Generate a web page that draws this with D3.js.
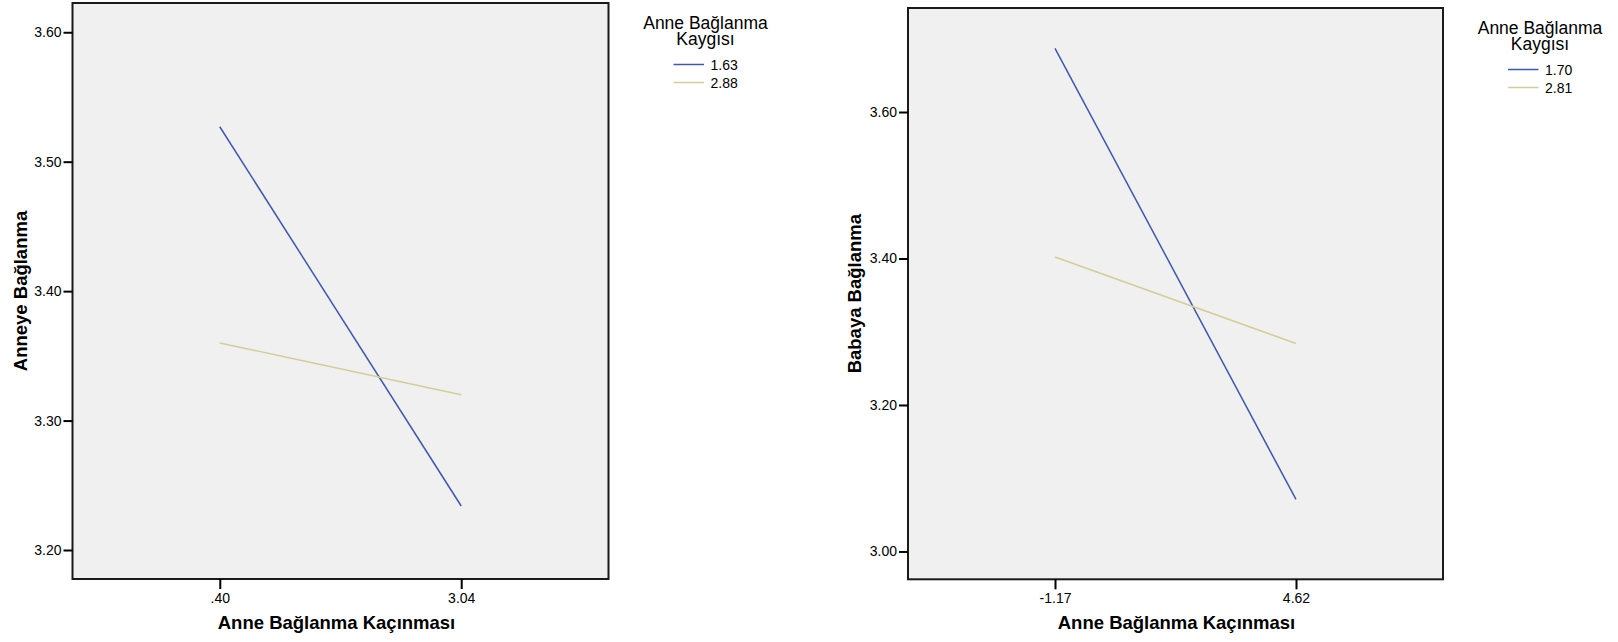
<!DOCTYPE html>
<html>
<head>
<meta charset="utf-8">
<script src="https://cdn.jsdelivr.net/npm/d3@7"></script>
<style>
  html, body { margin: 0; padding: 0; background: #ffffff; }
  svg { display: block; font-family: "Liberation Sans", Arial, Helvetica, sans-serif; }
</style>
</head>
<body>
<svg id="chart" width="1618" height="642"></svg>
<script>
// ---------- data ----------
const xTitle = "Anne Bağlanma Kaçınması";
const legendTitle = ["Anne Bağlanma", "Kaygısı"];

const leftCategories = [".40", "3.04"];
const leftSeriesNames = ["1.63", "2.88"];
const leftLow = [3.527, 3.234];   // Kaygısı 1.63
const leftHigh = [3.360, 3.320];  // Kaygısı 2.88
const leftYTicks = [3.20, 3.30, 3.40, 3.50, 3.60];
const leftYDomain = [3.1776, 3.6226];
const leftYTitle = "Anneye Bağlanma";

const rightCategories = ["-1.17", "4.62"];
const rightSeriesNames = ["1.70", "2.81"];
const rightLow = [3.687, 3.071];  // Kaygısı 1.70
const rightHigh = [3.402, 3.284]; // Kaygısı 2.81
const rightYTicks = [3.00, 3.20, 3.40, 3.60];
const rightYDomain = [2.962, 3.742];
const rightYTitle = "Babaya Bağlanma";

const seriesColors = ["#3E58AC", "#D3CE97"];

// ---------- drawing ----------
const svg = d3.select("#chart");

function drawPanel(cfg) {
  const g = svg.append("g");
  const x = d3.scalePoint().domain(cfg.categories).range([cfg.left, cfg.right]).padding(0.61);
  const y = d3.scaleLinear().domain(cfg.yDomain).range([cfg.bottom, cfg.top]);

  // plot area
  g.append("rect")
    .attr("x", cfg.left).attr("y", cfg.top)
    .attr("width", cfg.right - cfg.left).attr("height", cfg.bottom - cfg.top)
    .attr("fill", "#F0F0F0").attr("stroke", "none");

  // series lines
  const series = [cfg.low, cfg.high];
  const line = d3.line().x((d, i) => x(cfg.categories[i])).y(d => y(d));
  series.forEach((vals, si) => {
    g.append("path")
      .datum(vals)
      .attr("d", line)
      .attr("fill", "none")
      .attr("stroke", seriesColors[si])
      .attr("stroke-width", 1.5);
  });

  // frame
  g.append("rect")
    .attr("x", cfg.left).attr("y", cfg.top)
    .attr("width", cfg.right - cfg.left).attr("height", cfg.bottom - cfg.top)
    .attr("fill", "none").attr("stroke", "#1a1a1a").attr("stroke-width", 2);

  // y axis
  const yAxis = g.append("g")
    .attr("transform", `translate(${cfg.left},0)`)
    .call(d3.axisLeft(y).tickValues(cfg.yTicks).tickFormat(d3.format(".2f")).tickSize(9).tickPadding(2));
  yAxis.select(".domain").remove();
  yAxis.selectAll(".tick line").attr("stroke", "#000").attr("stroke-width", 2);
  yAxis.selectAll(".tick text").attr("font-size", "14px").attr("fill", "#000")
    .attr("font-family", '"Liberation Sans", Arial, sans-serif');

  // x axis
  const xAxis = g.append("g")
    .attr("transform", `translate(0,${cfg.bottom})`)
    .call(d3.axisBottom(x).tickSize(10).tickPadding(4));
  xAxis.select(".domain").remove();
  xAxis.selectAll(".tick line").attr("stroke", "#000").attr("stroke-width", 2);
  xAxis.selectAll(".tick text").attr("font-size", "14px").attr("fill", "#000")
    .attr("font-family", '"Liberation Sans", Arial, sans-serif');

  // axis titles
  g.append("text")
    .attr("x", (cfg.left + cfg.right) / 2 + cfg.xTitleShift).attr("y", cfg.bottom + 50)
    .attr("text-anchor", "middle")
    .attr("font-size", "18.5px").attr("font-weight", "bold").attr("fill", "#000")
    .text(xTitle);

  g.append("text")
    .attr("transform", `translate(${cfg.yTitleX},${(cfg.top + cfg.bottom) / 2}) rotate(-90)`)
    .attr("text-anchor", "middle")
    .attr("font-size", "18.5px").attr("font-weight", "bold").attr("fill", "#000")
    .text(cfg.yTitle);

  // legend
  const lx = cfg.right + 97;
  const lg = g.append("g");
  legendTitle.forEach((t, i) => {
    lg.append("text")
      .attr("x", lx).attr("y", cfg.top + 26 + i * 16)
      .attr("text-anchor", "middle")
      .attr("font-size", "17.5px").attr("fill", "#000")
      .text(t);
  });
  cfg.seriesNames.forEach((name, i) => {
    const yy = cfg.top + 61.5 + i * 18;
    lg.append("line")
      .attr("x1", lx - 32).attr("x2", lx - 1.5)
      .attr("y1", yy).attr("y2", yy)
      .attr("stroke", seriesColors[i]).attr("stroke-width", 1.5);
    lg.append("text")
      .attr("x", lx + 5).attr("y", yy + 5)
      .attr("font-size", "14px").attr("fill", "#000")
      .text(name);
  });
}

drawPanel({
  categories: leftCategories, low: leftLow, high: leftHigh,
  seriesNames: leftSeriesNames, yTicks: leftYTicks, yDomain: leftYDomain,
  yTitle: leftYTitle,
  left: 72.5, right: 608.5, top: 3, bottom: 579, yTitleX: 27, xTitleShift: -4
});

drawPanel({
  categories: rightCategories, low: rightLow, high: rightHigh,
  seriesNames: rightSeriesNames, yTicks: rightYTicks, yDomain: rightYDomain,
  yTitle: rightYTitle,
  left: 908, right: 1443, top: 8, bottom: 579.3, yTitleX: 861, xTitleShift: 1
});
</script>
</body>
</html>
